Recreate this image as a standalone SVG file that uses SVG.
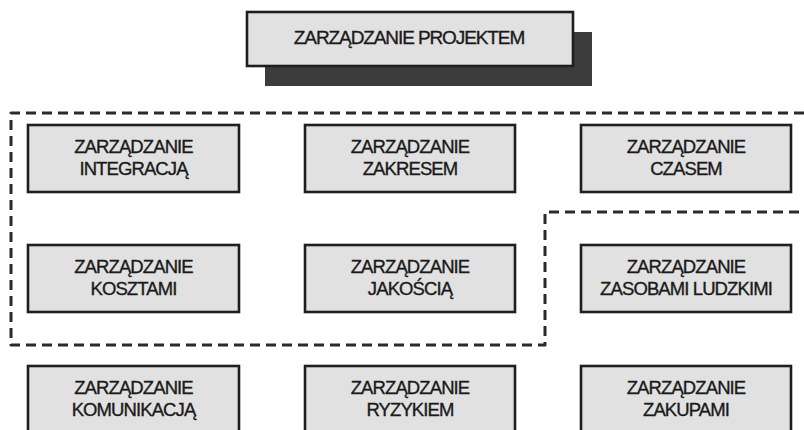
<svg xmlns="http://www.w3.org/2000/svg" width="804" height="430" viewBox="0 0 804 430">
  <style>
    .box { fill: #e1e1e1; stroke: #1e1e1e; stroke-width: 2.6; }
    .shadow { fill: #3c3c3c; }
    .lbl { font-family: "Liberation Sans", Arial, sans-serif; font-size: 18.5px; letter-spacing: -0.9px; fill: #1a1a1a; stroke: #1a1a1a; stroke-width: 0.35; text-anchor: middle; }
    .title { font-size: 19px; letter-spacing: -1.1px; }
    .group { fill: none; stroke: #2a2a2a; stroke-width: 3; stroke-dasharray: 10 6; stroke-linejoin: round; }
  </style>
  <rect width="804" height="430" fill="#ffffff"/>

  <g id="connectors">
    <!-- dashed grouping outline -->
    <path class="group" d="M804 113 H11 V345 H545 V212 H804"/>
  </g>

  <g id="project">
    <rect class="shadow" x="265" y="32" width="327" height="54"/>
    <rect class="box" x="247" y="12" width="326" height="54"/>
    <text class="lbl title" x="409" y="44">ZARZĄDZANIE PROJEKTEM</text>
  </g>

  <g id="integration">
    <rect class="box" x="28" y="125" width="211" height="67"/>
    <text class="lbl" x="133.5" y="153">ZARZĄDZANIE</text>
    <text class="lbl" x="133.5" y="175">INTEGRACJĄ</text>
  </g>
  <g id="scope">
    <rect class="box" x="305" y="125" width="210" height="67"/>
    <text class="lbl" x="410" y="153">ZARZĄDZANIE</text>
    <text class="lbl" x="410" y="175">ZAKRESEM</text>
  </g>
  <g id="time">
    <rect class="box" x="581" y="125" width="210" height="67"/>
    <text class="lbl" x="686" y="153">ZARZĄDZANIE</text>
    <text class="lbl" x="686" y="175">CZASEM</text>
  </g>

  <g id="cost">
    <rect class="box" x="28" y="245" width="211" height="67"/>
    <text class="lbl" x="133.5" y="273">ZARZĄDZANIE</text>
    <text class="lbl" x="133.5" y="295">KOSZTAMI</text>
  </g>
  <g id="quality">
    <rect class="box" x="305" y="245" width="210" height="67"/>
    <text class="lbl" x="410" y="273">ZARZĄDZANIE</text>
    <text class="lbl" x="410" y="295">JAKOŚCIĄ</text>
  </g>
  <g id="human-resources">
    <rect class="box" x="581" y="245" width="210" height="67"/>
    <text class="lbl" x="686" y="273">ZARZĄDZANIE</text>
    <text class="lbl" x="686" y="295">ZASOBAMI LUDZKIMI</text>
  </g>

  <g id="communication">
    <rect class="box" x="28" y="366" width="211" height="80"/>
    <text class="lbl" x="133.5" y="394">ZARZĄDZANIE</text>
    <text class="lbl" x="133.5" y="416">KOMUNIKACJĄ</text>
  </g>
  <g id="risk">
    <rect class="box" x="305" y="366" width="210" height="80"/>
    <text class="lbl" x="410" y="394">ZARZĄDZANIE</text>
    <text class="lbl" x="410" y="416">RYZYKIEM</text>
  </g>
  <g id="procurement">
    <rect class="box" x="581" y="366" width="210" height="80"/>
    <text class="lbl" x="686" y="394">ZARZĄDZANIE</text>
    <text class="lbl" x="686" y="416">ZAKUPAMI</text>
  </g>
</svg>
